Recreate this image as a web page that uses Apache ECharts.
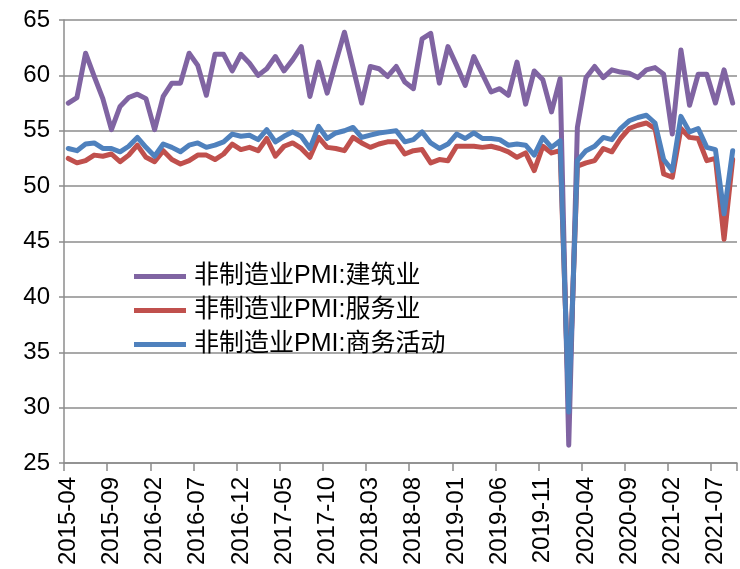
<!DOCTYPE html>
<html>
<head>
<meta charset="utf-8">
<script src="https://cdn.jsdelivr.net/npm/echarts@6/dist/echarts.min.js"></script>
<style>
html,body{margin:0;padding:0;background:#fff;}
#chart{width:740px;height:569px;}
</style>
</head>
<body>
<div id="chart"></div>
<script>
var categories = [
'2015-04','2015-05','2015-06','2015-07','2015-08','2015-09','2015-10','2015-11','2015-12',
'2016-01','2016-02','2016-03','2016-04','2016-05','2016-06','2016-07','2016-08','2016-09','2016-10','2016-11','2016-12',
'2017-01','2017-02','2017-03','2017-04','2017-05','2017-06','2017-07','2017-08','2017-09','2017-10','2017-11','2017-12',
'2018-01','2018-02','2018-03','2018-04','2018-05','2018-06','2018-07','2018-08','2018-09','2018-10','2018-11','2018-12',
'2019-01','2019-02','2019-03','2019-04','2019-05','2019-06','2019-07','2019-08','2019-09','2019-10','2019-11','2019-12',
'2020-01','2020-02','2020-03','2020-04','2020-05','2020-06','2020-07','2020-08','2020-09','2020-10','2020-11','2020-12',
'2021-01','2021-02','2021-03','2021-04','2021-05','2021-06','2021-07','2021-08','2021-09'
];

var construction = [
57.5,58.0,62.0,59.9,57.9,55.1,57.2,58.0,58.3,
57.9,55.1,58.1,59.3,59.3,62.0,60.9,58.2,61.9,61.9,60.4,61.9,
61.1,60.0,60.6,61.7,60.4,61.4,62.6,58.1,61.2,58.4,61.2,63.9,
60.7,57.5,60.8,60.6,59.9,60.8,59.4,58.8,63.3,63.8,59.3,62.6,
60.9,59.1,61.7,60.1,58.5,58.8,58.2,61.2,57.4,60.4,59.6,56.7,
59.7,26.6,55.3,59.8,60.8,59.8,60.5,60.3,60.2,59.8,60.5,60.7,
60.1,54.7,62.3,57.3,60.1,60.1,57.5,60.5,57.5
];

var services = [
52.5,52.1,52.3,52.8,52.7,52.9,52.2,52.8,53.7,
52.6,52.2,53.2,52.4,52.0,52.3,52.8,52.8,52.4,52.9,53.8,53.3,
53.5,53.2,54.3,52.7,53.6,53.9,53.4,52.6,54.4,53.5,53.4,53.2,
54.4,53.9,53.5,53.8,54.0,54.0,52.9,53.2,53.3,52.1,52.4,52.3,
53.6,53.6,53.6,53.5,53.6,53.4,53.1,52.6,53.0,51.4,53.6,53.0,
53.2,30.1,51.8,52.1,52.3,53.4,53.1,54.3,55.2,55.5,55.7,55.2,
51.1,50.8,55.2,54.4,54.3,52.3,52.5,45.2,52.4
];

var business = [
53.4,53.2,53.8,53.9,53.4,53.4,53.1,53.6,54.4,
53.5,52.7,53.8,53.5,53.1,53.7,53.9,53.5,53.7,54.0,54.7,54.5,
54.6,54.2,55.1,54.0,54.5,54.9,54.5,53.4,55.4,54.3,54.8,55.0,
55.3,54.4,54.6,54.8,54.9,55.0,54.0,54.2,54.9,53.9,53.4,53.8,
54.7,54.3,54.8,54.3,54.3,54.2,53.7,53.8,53.7,52.8,54.4,53.5,
54.1,29.6,52.3,53.2,53.6,54.4,54.2,55.2,55.9,56.2,56.4,55.7,
52.4,51.4,56.3,54.9,55.2,53.5,53.3,47.5,53.2
];

var seriesNames = ['非制造业PMI:建筑业','非制造业PMI:服务业','非制造业PMI:商务活动'];
var seriesColors = ['#8064A2','#C0504D','#4F81BD'];

var FONT = '"Liberation Sans", Arial, "Noto Sans CJK SC", sans-serif';
var chart = echarts.init(document.getElementById('chart'), null, {renderer:'canvas'});

function mk(name, data, color) {
  return {
    name: name, type: 'line', data: data, symbol: 'none', smooth: false,
    lineStyle: {color: color, width: 5, cap: 'round', join: 'round'},
    itemStyle: {color: color},
    emphasis: {disabled: true}
  };
}

chart.setOption({
  animation: false,
  textStyle: {fontFamily: FONT},
  grid: {left: 64, right: 3, top: 20, bottom: 106},
  legend: {
    orient: 'vertical', left: 129, top: 259,
    icon: 'rect',
    itemWidth: 52, itemHeight: 5, itemGap: 9,
    textStyle: {fontSize: 25, color: '#000', fontFamily: FONT, padding: [0, 0, 0, 3]},
    data: seriesNames
  },
  xAxis: {
    type: 'category', data: categories, boundaryGap: true,
    axisLine: {lineStyle: {color: '#8c8c8c', width: 1.5}},
    axisTick: {show: true, interval: 4, length: 8, lineStyle: {color: '#8c8c8c', width: 1.5}},
    axisLabel: {interval: 4, rotate: 90, fontSize: 24, color: '#000', margin: 14, fontFamily: FONT},
    splitLine: {show: false}
  },
  yAxis: {
    type: 'value', min: 25, max: 65, interval: 5,
    axisLine: {show: true, lineStyle: {color: '#8c8c8c', width: 1.5}},
    axisTick: {show: true, length: 5, lineStyle: {color: '#8c8c8c', width: 1.5}},
    axisLabel: {fontSize: 24, color: '#000', margin: 14, fontFamily: FONT},
    splitLine: {show: true, lineStyle: {color: '#8c8c8c', width: 1.5}}
  },
  series: [
    mk(seriesNames[0], construction, seriesColors[0]),
    mk(seriesNames[1], services, seriesColors[1]),
    mk(seriesNames[2], business, seriesColors[2])
  ]
});
</script>
</body>
</html>
